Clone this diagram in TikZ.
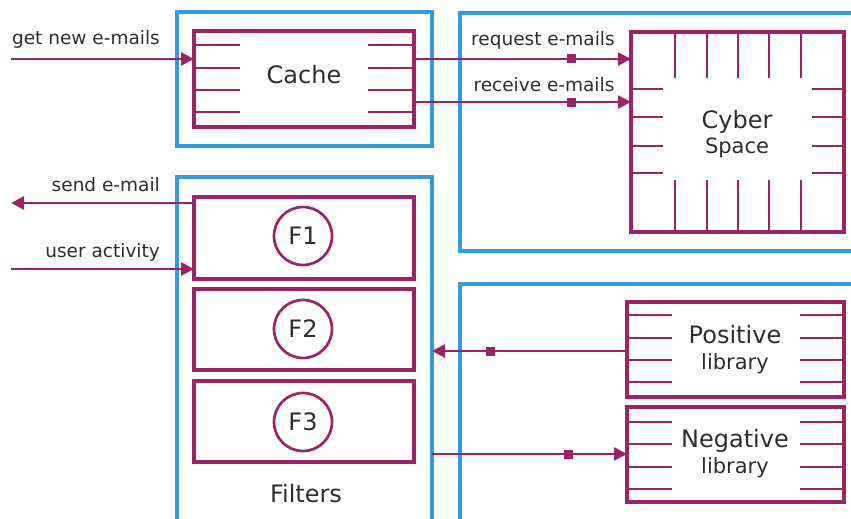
\documentclass[tikz,border=0pt]{standalone}
\usepackage{fontspec}
\setmainfont{DejaVu Sans}
\usetikzlibrary{arrows.meta,calc}
\definecolor{mag}{RGB}{155,36,102}
\definecolor{sky}{RGB}{52,156,220}
\definecolor{txt}{RGB}{45,45,45}
\begin{document}
\begin{tikzpicture}[x=1pt,y=-1pt,
  grp/.style={draw=sky, line width=3.1pt, rectangle, inner sep=0pt, outer sep=0pt, anchor=north west},
  mbox/.style={draw=mag, line width=3.1pt, rectangle, inner sep=0pt, outer sep=0pt, anchor=north west},
  fcirc/.style={draw=mag, line width=2.7pt, circle, minimum size=58pt, inner sep=0pt, font=\fontsize{24}{26}\selectfont, text=txt},
  tick/.style={draw=mag, line width=1.5pt},
  conn/.style={draw=mag, line width=2.6pt, -{Triangle[length=13pt,width=13pt]}},
  sq/.style={fill=mag, rectangle, minimum size=9pt, inner sep=0pt},
  big/.style={font=\fontsize{24}{26}\selectfont, text=txt, inner sep=0pt, anchor=base},
  sub/.style={font=\fontsize{21}{23}\selectfont, text=txt, inner sep=0pt, anchor=base},
  lab/.style={font=\fontsize{18.5}{20}\selectfont, text=txt, inner sep=0pt}
]
\useasboundingbox (0,0) rectangle (851,519);
\clip (0,0) rectangle (851,519);

% group boxes
\node[grp, minimum width=255pt, minimum height=134pt] (cachegrp) at (177,12) {};
\node[grp, minimum width=440pt, minimum height=238pt] (cybergrp) at (460,13) {};
\node[grp, minimum width=255pt, minimum height=383pt] (filtgrp) at (177,177) {};
\node[grp, minimum width=440pt, minimum height=276pt] (libgrp) at (460,284) {};

% cache
\node[mbox, minimum width=220pt, minimum height=96pt] (cache) at (194,31) {};
\foreach \y in {45,68,90,112}{
  \draw[tick] (194,\y) -- (240,\y);
  \draw[tick] (368,\y) -- (414,\y);
}
\node[big] (cachet) at (304,83) {Cache};

% cyber space
\node[mbox, minimum width=213pt, minimum height=200pt] (cyber) at (631,32) {};
\foreach \x in {675,707,738,769,801}{
  \draw[tick] (\x,32) -- (\x,78);
  \draw[tick] (\x,180) -- (\x,232);
}
\foreach \y in {89,117,146,173}{
  \draw[tick] (631,\y) -- (663,\y);
  \draw[tick] (812,\y) -- (844,\y);
}
\node[big] (cybert) at (737,128) {Cyber};
\node[sub] (spacet) at (737,153) {Space};

% filters
\node[mbox, minimum width=220pt, minimum height=82pt] (f1) at (194,197) {};
\node[mbox, minimum width=220pt, minimum height=81pt] (f2) at (194,289) {};
\node[mbox, minimum width=220pt, minimum height=81pt] (f3) at (194,381) {};
\node[fcirc] (c1) at (303,236) {F1};
\node[fcirc] (c2) at (303,329) {F2};
\node[fcirc] (c3) at (303,422) {F3};
\node[big] (filtt) at (306,502) {Filters};

% libraries
\node[mbox, minimum width=217pt, minimum height=95pt] (pos) at (627,302) {};
\node[mbox, minimum width=217pt, minimum height=95pt] (neg) at (627,407) {};
\foreach \y in {315,338,360,382,422,444,467,489}{
  \draw[tick] (627,\y) -- (672,\y);
  \draw[tick] (800,\y) -- (844,\y);
}
\node[big] (post) at (735,343) {Positive};
\node[sub] (poslib) at (735,369) {library};
\node[big] (negt) at (735,447) {Negative};
\node[sub] (neglib) at (735,473) {library};

% labels
\node[lab, anchor=base east] (lget) at (160,45) {get new e-mails};
\node[lab, anchor=base] (lreq) at (543,46) {request e-mails};
\node[lab, anchor=base] (lrec) at (544,91) {receive e-mails};
\node[lab, anchor=base east] (lsend) at (160,191) {send e-mail};
\node[lab, anchor=base east] (luser) at (160,257) {user activity};

% connectors
\coordinate (getin) at (11,59);
\coordinate (sendout) at (11,203);
\coordinate (userin) at (11,269);
\draw[conn] (getin) -- (cache.west |- getin);
\draw[conn] (cache.east |- 0,59) -- node[sq, pos=0.728] (sq1) {} (cyber.west |- 0,59);
\draw[conn] (cache.east |- 0,102) -- node[sq, pos=0.728] (sq2) {} (cyber.west |- 0,102);
\draw[conn] (f1.west |- sendout) -- (sendout);
\draw[conn] (userin) -- (f1.west |- userin);
\draw[conn] (pos.west |- 0,351) -- node[sq, pos=0.70] (sq3) {} (filtgrp.east |- 0,351);
\draw[conn] (filtgrp.east |- 0,454) -- node[sq, pos=0.70] (sq4) {} (neg.west |- 0,454);
\end{tikzpicture}
\end{document}
